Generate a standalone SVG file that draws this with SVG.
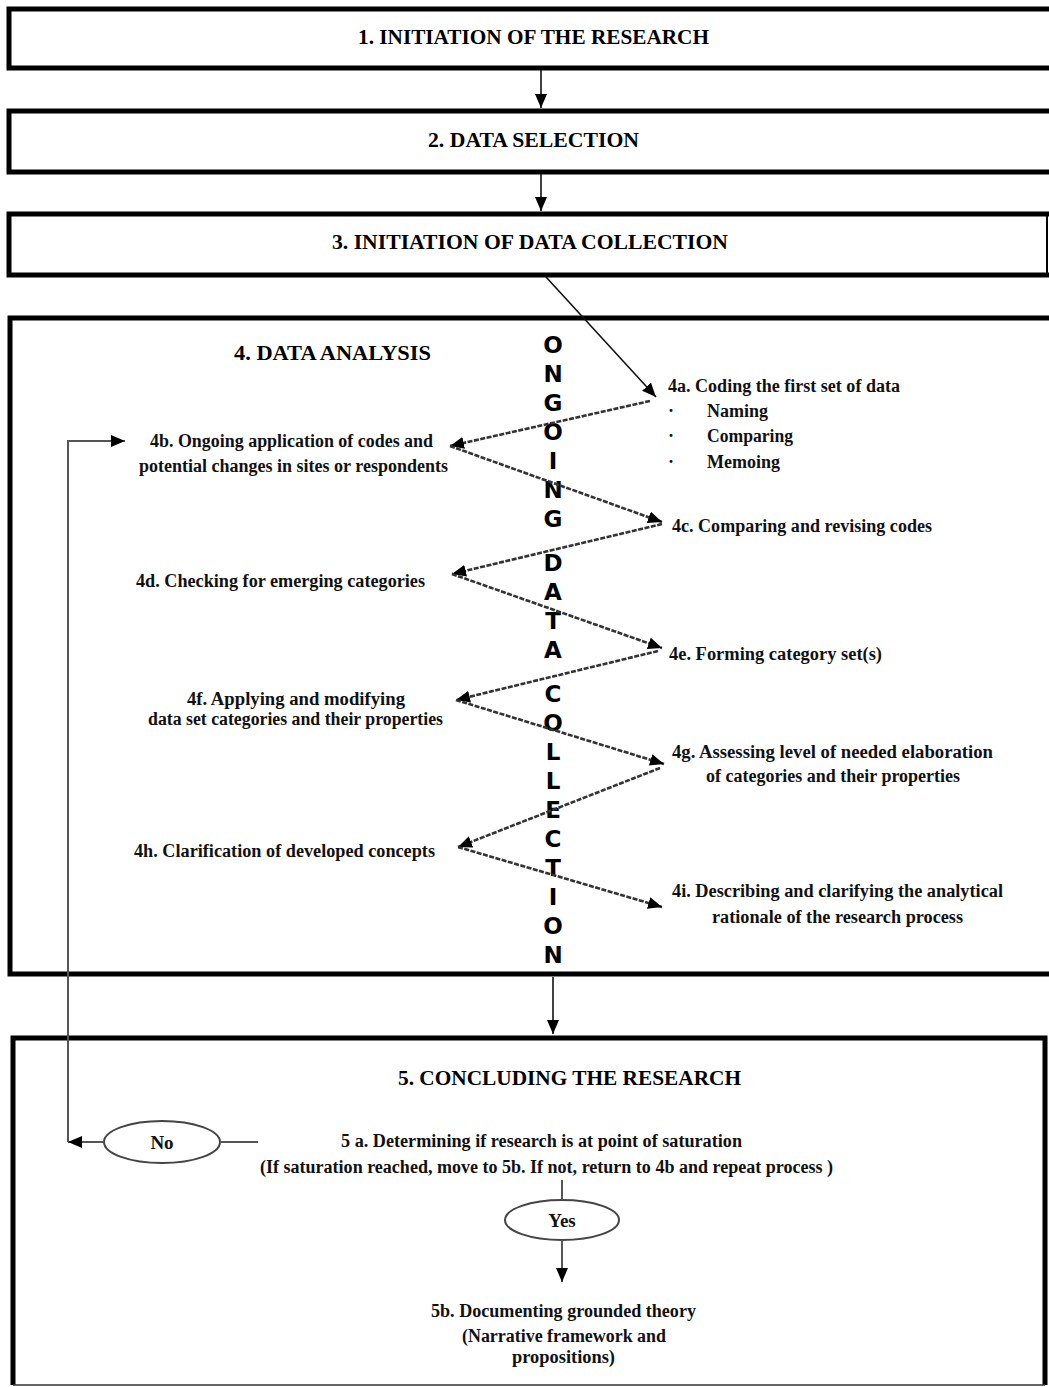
<svg xmlns="http://www.w3.org/2000/svg" width="1049" height="1387" viewBox="0 0 1049 1387">
<style>
.box{fill:#fff;stroke:#000;stroke-width:5}
.h{font-family:"Liberation Serif","Times New Roman",serif;font-weight:bold;font-size:22px;fill:#000}
.t{font-family:"Liberation Serif","Times New Roman",serif;font-weight:bold;font-size:18px;fill:#111}
.c{text-anchor:middle}
.v{font-family:"DejaVu Sans",Arial,sans-serif;font-weight:bold;font-size:23px;fill:#000;text-anchor:middle}
.ln{fill:none;stroke:#111;stroke-width:1.6}
.zz{fill:none;stroke:#333;stroke-width:2.6;stroke-dasharray:5 1.5}
.thin{fill:none;stroke:#555;stroke-width:2}
.ell{fill:#fff;stroke:#444;stroke-width:2}
</style>
<defs>
<marker id="ah" markerUnits="userSpaceOnUse" markerWidth="16" markerHeight="12" refX="14" refY="6" orient="auto">
<path d="M0,0 L14,6 L0,12 z" fill="#000"/>
</marker>
</defs>
<rect width="1049" height="1387" fill="#fff"/>

<g id="n1">
<rect class="box" x="9" y="9" width="1050" height="59"/>
<text class="h" x="358" y="44" textLength="351" lengthAdjust="spacingAndGlyphs">1. INITIATION OF THE RESEARCH</text>
</g>
<g id="n2">
<rect class="box" x="9" y="111" width="1050" height="61"/>
<text class="h" x="428" y="147" textLength="211" lengthAdjust="spacingAndGlyphs">2. DATA SELECTION</text>
</g>
<g id="n3">
<rect class="box" x="9" y="214" width="1050" height="61"/>
<line x1="1047" y1="216" x2="1047" y2="273" stroke="#000" stroke-width="2"/>
<text class="h" x="332" y="249" textLength="396" lengthAdjust="spacingAndGlyphs">3. INITIATION OF DATA COLLECTION</text>
</g>
<g id="n4">
<rect class="box" x="10" y="318" width="1050" height="656"/>
<text class="h" x="234" y="360" textLength="197" lengthAdjust="spacingAndGlyphs">4. DATA ANALYSIS</text>
</g>
<g id="vertical-label">
<text class="v" x="553" y="353">O</text>
<text class="v" x="553" y="382">N</text>
<text class="v" x="553" y="411">G</text>
<text class="v" x="553" y="440">O</text>
<text class="v" x="553" y="469">I</text>
<text class="v" x="553" y="498">N</text>
<text class="v" x="553" y="527">G</text>
<text class="v" x="553" y="571">D</text>
<text class="v" x="553" y="600">A</text>
<text class="v" x="553" y="629">T</text>
<text class="v" x="553" y="658">A</text>
<text class="v" x="553" y="702">C</text>
<text class="v" x="553" y="731">O</text>
<text class="v" x="553" y="760">L</text>
<text class="v" x="553" y="789">L</text>
<text class="v" x="553" y="818">E</text>
<text class="v" x="553" y="847">C</text>
<text class="v" x="553" y="876">T</text>
<text class="v" x="553" y="905">I</text>
<text class="v" x="553" y="934">O</text>
<text class="v" x="553" y="963">N</text>
</g>
<g id="n4a">
<text class="t" x="668" y="392" textLength="232" lengthAdjust="spacingAndGlyphs">4a. Coding the first set of data</text>
<text class="t" x="668" y="417">·</text>
<text class="t" x="707" y="417" textLength="61" lengthAdjust="spacingAndGlyphs">Naming</text>
<text class="t" x="668" y="442">·</text>
<text class="t" x="707" y="442" textLength="86" lengthAdjust="spacingAndGlyphs">Comparing</text>
<text class="t" x="668" y="468">·</text>
<text class="t" x="707" y="468" textLength="73" lengthAdjust="spacingAndGlyphs">Memoing</text>
</g>
<g id="n4b">
<text class="t" x="150" y="447" textLength="283" lengthAdjust="spacingAndGlyphs">4b. Ongoing application of codes and</text>
<text class="t" x="139" y="472" textLength="309" lengthAdjust="spacingAndGlyphs">potential changes in sites or respondents</text>
</g>
<g id="n4c">
<text class="t" x="672" y="532" textLength="260" lengthAdjust="spacingAndGlyphs">4c. Comparing and revising codes</text>
</g>
<g id="n4d">
<text class="t" x="136" y="587" textLength="289" lengthAdjust="spacingAndGlyphs">4d. Checking for emerging categories</text>
</g>
<g id="n4e">
<text class="t" x="669" y="660" textLength="213" lengthAdjust="spacingAndGlyphs">4e. Forming category set(s)</text>
</g>
<g id="n4f">
<text class="t" x="187" y="705" textLength="218" lengthAdjust="spacingAndGlyphs">4f. Applying and modifying</text>
<text class="t" x="148" y="725" textLength="295" lengthAdjust="spacingAndGlyphs">data set categories and their properties</text>
</g>
<g id="n4g">
<text class="t" x="672" y="758" textLength="321" lengthAdjust="spacingAndGlyphs">4g. Assessing level of needed elaboration</text>
<text class="t" x="706" y="782" textLength="254" lengthAdjust="spacingAndGlyphs">of categories and their properties</text>
</g>
<g id="n4h">
<text class="t" x="134" y="857" textLength="301" lengthAdjust="spacingAndGlyphs">4h. Clarification of developed concepts</text>
</g>
<g id="n4i">
<text class="t" x="672" y="897" textLength="331" lengthAdjust="spacingAndGlyphs">4i. Describing and clarifying the analytical</text>
<text class="t" x="712" y="923" textLength="251" lengthAdjust="spacingAndGlyphs">rationale of the research process</text>
</g>

<g id="n5">
<path d="M13,1385 V1038 H1045 V1385" fill="none" stroke="#000" stroke-width="5"/>
<line x1="13" y1="1385" x2="1045" y2="1385" stroke="#333" stroke-width="1.5"/>
<text class="h" x="398" y="1085" textLength="343" lengthAdjust="spacingAndGlyphs">5. CONCLUDING THE RESEARCH</text>
</g>
<g id="n5a">
<text class="t" x="341" y="1147" textLength="401" lengthAdjust="spacingAndGlyphs">5 a. Determining if research is at point of saturation</text>
<text class="t" x="260" y="1173" textLength="573" lengthAdjust="spacingAndGlyphs">(If saturation reached, move to 5b. If not, return to 4b and repeat process )</text>
</g>
<g id="no">
<ellipse class="ell" cx="162" cy="1142" rx="58" ry="21"/>
<text class="t c" x="162" y="1149" style="font-size:19px">No</text>
</g>
<g id="yes">
<ellipse class="ell" cx="562" cy="1220" rx="57" ry="20"/>
<text class="t c" x="562" y="1227" style="font-size:19px">Yes</text>
</g>
<g id="n5b">
<text class="t" x="431" y="1317" textLength="265" lengthAdjust="spacingAndGlyphs">5b. Documenting grounded theory</text>
<text class="t" x="462" y="1342" textLength="204" lengthAdjust="spacingAndGlyphs">(Narrative framework and</text>
<text class="t" x="512" y="1363" textLength="103" lengthAdjust="spacingAndGlyphs">propositions)</text>
</g>

<g id="connectors">
<line class="ln" x1="541" y1="70" x2="541" y2="108" marker-end="url(#ah)"/>
<line class="ln" x1="541" y1="174" x2="541" y2="211" marker-end="url(#ah)"/>
<line class="ln" x1="546" y1="277" x2="656" y2="397" marker-end="url(#ah)"/>
<line class="zz" x1="650" y1="401" x2="450" y2="446" marker-end="url(#ah)"/>
<line class="zz" x1="450" y1="446" x2="662" y2="522" marker-end="url(#ah)"/>
<line class="zz" x1="662" y1="524" x2="452" y2="574" marker-end="url(#ah)"/>
<line class="zz" x1="452" y1="574" x2="662" y2="648" marker-end="url(#ah)"/>
<line class="zz" x1="658" y1="651" x2="456" y2="700" marker-end="url(#ah)"/>
<line class="zz" x1="456" y1="700" x2="664" y2="764" marker-end="url(#ah)"/>
<line class="zz" x1="660" y1="768" x2="458" y2="847" marker-end="url(#ah)"/>
<line class="zz" x1="458" y1="847" x2="662" y2="907" marker-end="url(#ah)"/>
<line class="ln" x1="553" y1="977" x2="553" y2="1034" marker-end="url(#ah)"/>
<line class="thin" x1="220" y1="1142" x2="258" y2="1142"/>
<line class="thin" x1="104" y1="1142" x2="68" y2="1142" marker-end="url(#ah)"/>
<polyline class="thin" points="68,1142 68,441 125,441" marker-end="url(#ah)"/>
<line class="thin" x1="562" y1="1180" x2="562" y2="1200"/>
<line class="thin" x1="562" y1="1240" x2="562" y2="1282" marker-end="url(#ah)"/>
</g>
</svg>
